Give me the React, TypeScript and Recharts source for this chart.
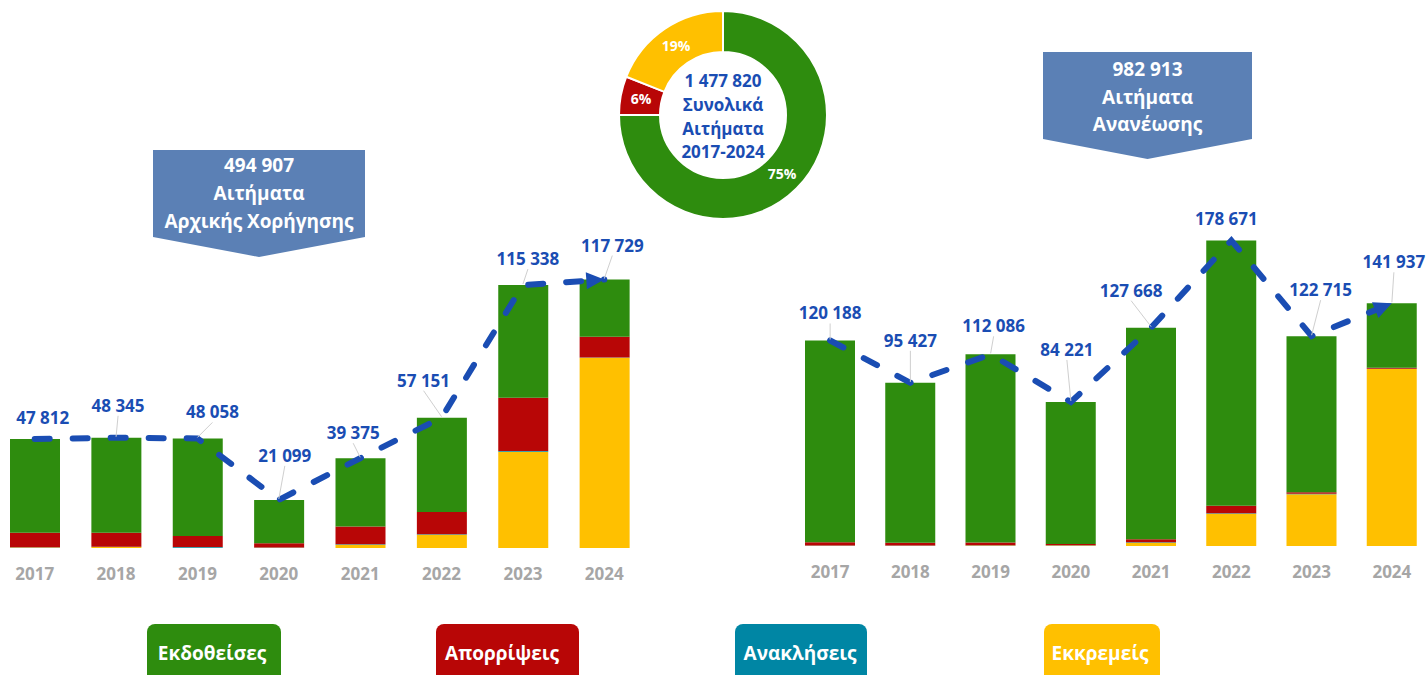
import React from 'react';
import { ComposedChart, Bar, Line, XAxis, YAxis, LabelList, PieChart, Pie, Cell } from 'recharts';

// ---------- data ----------
const years = ['2017', '2018', '2019', '2020', '2021', '2022', '2023', '2024'];

// Αιτήματα Αρχικής Χορήγησης
const initialTotals = [47812, 48345, 48058, 21099, 39375, 57151, 115338, 117729];
const initialIssued = [41162, 41695, 42758, 18999, 29975, 41351, 49438, 25029];
const initialRejected = [6300, 6100, 4900, 1850, 7800, 9800, 23400, 9200];
const initialWithdrawn = [100, 100, 250, 100, 200, 200, 300, 100];
const initialPending = [250, 450, 150, 150, 1400, 5800, 42200, 83400];

// Αιτήματα Ανανέωσης
const renewalTotals = [120188, 95427, 112086, 84221, 127668, 178671, 122715, 141937];
const renewalIssued = [118038, 93527, 109986, 83021, 123668, 155171, 91315, 37737];
const renewalRejected = [1900, 1600, 1700, 750, 1850, 4300, 800, 500];
const renewalWithdrawn = [150, 150, 150, 150, 200, 300, 400, 200];
const renewalPending = [100, 150, 250, 300, 1950, 18900, 30200, 103500];

// donut shares (%)
const donutNames = ['Εκδοθείσες', 'Απορρίψεις', 'Εκκρεμείς'];
const donutShares = [75, 6, 19];

const legendNames = ['Εκδοθείσες', 'Απορρίψεις', 'Ανακλήσεις', 'Εκκρεμείς'];
const initialTitle = ['Αιτήματα', 'Αρχικής Χορήγησης'];
const renewalTitle = ['Αιτήματα', 'Ανανέωσης'];
const donutTitle = ['Συνολικά', 'Αιτήματα', '2017-2024'];

// ---------- styles / layout ----------
const FONT = "'Open Sans', 'Noto Sans', sans-serif";
const GREEN = '#2E8C0E';
const RED = '#B80606';
const TEAL = '#0086A4';
const YELLOW = '#FFC000';
const BLUE = '#1A4DB3';
const BOX = '#5B80B5';
const GREY = '#A6A6A6';
const DOMAIN_MAX = 200000;

const initialLabelNudge: number[][] = [[8, -21], [2, -32], [15, -26], [6, -44], [-7, -25], [-18, -37], [5, -26], [8, -34]];
const renewalLabelNudge: number[][] = [[0, -27], [0, -42], [3, -28], [-4, -52], [-20, -37], [-5, -21], [9, -46], [2, -41]];

const fmt = (n: number) => String(Math.round(n)).replace(/\B(?=(\d{3})+(?!\d))/g, ' ');
const sum = (a: number[]) => a.reduce((s, v) => s + v, 0);

const buildRows = (tot: number[], iss: number[], rej: number[], wd: number[], pen: number[]) =>
  years.map((y, i) => ({ year: y, total: tot[i], issued: iss[i], rejected: rej[i], withdrawn: wd[i], pending: pen[i] }));

const initialRows = buildRows(initialTotals, initialIssued, initialRejected, initialWithdrawn, initialPending);
const renewalRows = buildRows(renewalTotals, renewalIssued, renewalRejected, renewalWithdrawn, renewalPending);
const donutRows = donutNames.map((n, i) => ({ name: n, value: donutShares[i] }));
const donutColors = [GREEN, RED, YELLOW];
const legendColors = [GREEN, RED, TEAL, YELLOW];

const YearTick = (props: any) => {
  const { x, y, payload } = props;
  return (
    <text x={x} y={y + 32} textAnchor="middle" fill={GREY} fontFamily={FONT} fontWeight={700} fontSize={17}>
      {payload.value}
    </text>
  );
};

const makeLabel = (nudges: number[][]) => (props: any) => {
  const { x, y, value, index } = props;
  const nd = nudges[index] || [0, -28];
  const lx = Number(x) + nd[0];
  const ly = Number(y) + nd[1];
  const showLeader = nd[1] < -24;
  return (
    <g key={`lab-${index}`}>
      {showLeader && <line x1={lx} y1={ly + 10} x2={x} y2={Number(y) - 1} stroke="#cfcfcf" strokeWidth={1} />}
      <text x={lx} y={ly + 6} textAnchor="middle" fill={BLUE} fontFamily={FONT} fontWeight={700} fontSize={17}>
        {fmt(Number(value))}
      </text>
    </g>
  );
};

const makeArrowDot = (totals: number[], bandPx: number, pxPerUnit: number) => (props: any) => {
  const { cx, cy, index, points } = props;
  if (index !== totals.length - 1 || cx == null || cy == null) return <g key={`dot-${index}`} />;
  let px: number;
  let py: number;
  if (points && points[index - 1] && points[index - 1].x != null) {
    px = points[index - 1].x;
    py = points[index - 1].y;
  } else {
    px = cx - bandPx;
    py = cy + (totals[index] - totals[index - 1]) * pxPerUnit;
  }
  const ang = Math.atan2(cy - py, cx - px);
  const L = 18;
  const W = 8.5;
  const bx = cx - L * Math.cos(ang);
  const by = cy - L * Math.sin(ang);
  const nx = -Math.sin(ang);
  const ny = Math.cos(ang);
  return (
    <polygon
      key={`dot-${index}`}
      points={`${cx},${cy} ${bx + nx * W},${by + ny * W} ${bx - nx * W},${by - ny * W}`}
      fill={BLUE}
    />
  );
};

type ChartProps = {
  rows: any[];
  totals: number[];
  width: number;
  height: number;
  top: number;
  nudges: number[][];
};

const StackChart = ({ rows, totals, width, height, top, nudges }: ChartProps) => {
  const plotH = height - 40 - top;
  const band = width / rows.length;
  return (
    <ComposedChart width={width} height={height} data={rows} margin={{ top, right: 0, bottom: 0, left: 0 }}>
      <XAxis dataKey="year" height={40} axisLine={false} tickLine={false} tickSize={0} tickMargin={0} tick={<YearTick />} interval={0} />
      <YAxis hide domain={[0, DOMAIN_MAX]} />
      <Bar dataKey="pending" stackId="s" fill={YELLOW} barSize={50} isAnimationActive={false} />
      <Bar dataKey="withdrawn" stackId="s" fill={TEAL} barSize={50} isAnimationActive={false} />
      <Bar dataKey="rejected" stackId="s" fill={RED} barSize={50} isAnimationActive={false} />
      <Bar dataKey="issued" stackId="s" fill={GREEN} barSize={50} isAnimationActive={false} />
      <Line
        type="linear"
        dataKey="total"
        stroke={BLUE}
        strokeWidth={6}
        strokeDasharray="15 23"
        strokeLinecap="round"
        isAnimationActive={false}
        activeDot={false}
        dot={makeArrowDot(totals, band, plotH / DOMAIN_MAX)}
      >
        <LabelList dataKey="total" content={makeLabel(nudges)} />
      </Line>
    </ComposedChart>
  );
};

const renderPieLabel = (props: any) => {
  const { cx, cy, midAngle, innerRadius, outerRadius, value, index } = props;
  const RAD = Math.PI / 180;
  const r = (innerRadius + outerRadius) / 2;
  const x = cx + r * Math.cos(-midAngle * RAD);
  const y = cy + r * Math.sin(-midAngle * RAD);
  return (
    <text key={`pl-${index}`} x={x} y={y + 5} textAnchor="middle" fill="#ffffff" fontFamily={FONT} fontWeight={700} fontSize={14}>
      {value}%
    </text>
  );
};

const Callout = ({ x1, x2, y1, y2, tipY, lines, baselines }: any) => {
  const mid = (x1 + x2) / 2;
  return (
    <g>
      <polygon points={`${x1},${y1} ${x2},${y1} ${x2},${y2} ${mid},${tipY} ${x1},${y2}`} fill={BOX} />
      {lines.map((t: string, i: number) => (
        <text key={i} x={mid} y={baselines[i]} textAnchor="middle" fill="#ffffff" fontFamily={FONT} fontWeight={700} fontSize={19}>
          {t}
        </text>
      ))}
    </g>
  );
};

const legendBoxes = [
  { x: 147, w: 134, tx: 212 },
  { x: 436, w: 143, tx: 502 },
  { x: 735, w: 132, tx: 800 },
  { x: 1044, w: 116, tx: 1100 },
];

export default function App() {
  const initialSum = sum(initialTotals);
  const renewalSum = sum(renewalTotals);
  return (
    <div style={{ position: 'absolute', left: 0, top: 0, width: 1427, height: 675, overflow: 'hidden', background: '#ffffff', fontFamily: FONT }}>
      <div style={{ position: 'absolute', left: -6, top: 0 }}>
        <StackChart rows={initialRows} totals={initialTotals} width={651} height={588} top={92} nudges={initialLabelNudge} />
      </div>
      <div style={{ position: 'absolute', left: 790, top: 0 }}>
        <StackChart rows={renewalRows} totals={renewalTotals} width={642} height={586} top={204} nudges={renewalLabelNudge} />
      </div>
      <div style={{ position: 'absolute', left: 613, top: 5 }}>
        <PieChart width={220} height={220} margin={{ top: 0, right: 0, bottom: 0, left: 0 }}>
          <Pie
            data={donutRows}
            dataKey="value"
            nameKey="name"
            cx={110}
            cy={110}
            innerRadius={63}
            outerRadius={104}
            startAngle={90}
            endAngle={-270}
            stroke="#ffffff"
            strokeWidth={2}
            label={renderPieLabel}
            labelLine={false}
            isAnimationActive={false}
          >
            {donutRows.map((d, i) => (
              <Cell key={d.name} fill={donutColors[i]} />
            ))}
          </Pie>
        </PieChart>
      </div>
      <svg width={1427} height={675} style={{ position: 'absolute', left: 0, top: 0, pointerEvents: 'none' }}>
        <Callout x1={153} x2={365} y1={150} y2={237} tipY={257} lines={[fmt(initialSum), ...initialTitle]} baselines={[172, 200, 228]} />
        <Callout x1={1043} x2={1252} y1={52} y2={139} tipY={159} lines={[fmt(renewalSum), ...renewalTitle]} baselines={[76, 103.5, 131]} />
        {[fmt(initialSum + renewalSum), ...donutTitle].map((t, i) => (
          <text key={i} x={723} y={87.3 + i * 23.7} textAnchor="middle" fill={BLUE} fontFamily={FONT} fontWeight={700} fontSize={17}>
            {t}
          </text>
        ))}
        {legendNames.map((n, i) => (
          <g key={n}>
            <rect x={legendBoxes[i].x} y={624} width={legendBoxes[i].w} height={70} rx={8} ry={8} fill={legendColors[i]} />
            <text x={legendBoxes[i].tx} y={660} textAnchor="middle" fill="#ffffff" fontFamily={FONT} fontWeight={700} fontSize={19}>
              {n}
            </text>
          </g>
        ))}
      </svg>
    </div>
  );
}
